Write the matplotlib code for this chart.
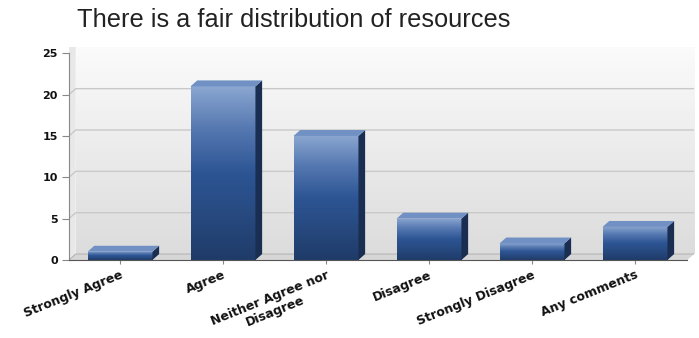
import numpy as np
import matplotlib
matplotlib.use('Agg')
import matplotlib.pyplot as plt
from matplotlib.patches import Polygon
from matplotlib.colors import LinearSegmentedColormap

# data
categories = ['Strongly Agree', 'Agree', 'Neither Agree nor\nDisagree',
              'Disagree', 'Strongly Disagree', 'Any comments']
counts = [1, 21, 15, 5, 2, 4]
yticks = [0, 5, 10, 15, 20, 25]
title = 'There is a fair distribution of resources'

W, H = 699, 338
fig = plt.figure(figsize=(W / 100, H / 100), dpi=100)
fig.patch.set_facecolor('white')

# axes box in pixels: x 69..694, y 47..260
ax = fig.add_axes([69 / W, (H - 260) / H, (694 - 69) / W, (260 - 47) / H])
x0, x1 = -0.495, 5.573
ytop = 25.76
dx, dy = 0.065, 0.72  # 3d depth in data units

# back wall gradient
grad = np.linspace(0, 1, 256).reshape(-1, 1)
wall_cm = LinearSegmentedColormap.from_list('wall', ['#dcdcdc', '#fbfbfb'])
ax.imshow(grad, cmap=wall_cm, origin='lower', aspect='auto',
          extent=(x0 + dx, x1, dy, ytop), zorder=0)
# left wall and floor
ax.add_patch(Polygon([(x0, 0), (x0 + dx, dy), (x0 + dx, ytop), (x0, ytop)],
                     closed=True, fc='#e8e8e8', ec='none', zorder=0.5))
ax.add_patch(Polygon([(x0, 0), (x1 - dx, 0), (x1, dy), (x0 + dx, dy)],
                     closed=True, fc='#d6d6d6', ec='none', zorder=0.5))

# gridlines on back wall
for t in yticks[1:-1]:
    ax.plot([x0, x0 + dx, x1], [t, t + dy, t + dy], color='#c9c9c9', lw=1, zorder=1)
ax.plot([x0, x0 + dx, x1], [0, dy, dy], color='#b5b5b5', lw=0.8, zorder=1)

# bars
bw = 0.63
front_cm = LinearSegmentedColormap.from_list(
    'front', ['#1f3b68', '#27497f', '#2d5594', '#5477b0', '#8ba7d1'])
bars = ax.bar(range(len(counts)), counts, width=bw, color='none', zorder=3)
for i, (b, v) in enumerate(zip(bars, counts)):
    left = i - bw / 2
    right = i + bw / 2
    im = ax.imshow(grad, cmap=front_cm, origin='lower', aspect='auto',
                   extent=(left, right, 0, v), zorder=3)
    im.set_clip_path(b)
    # side face
    ax.add_patch(Polygon([(right, 0), (right + dx, dy), (right + dx, v + dy), (right, v)],
                         closed=True, fc='#1a2e52', ec='none', zorder=3))
    # top face
    ax.add_patch(Polygon([(left, v), (left + dx, v + dy), (right + dx, v + dy), (right, v)],
                         closed=True, fc='#7191c4', ec='none', zorder=3))

ax.set_xlim(x0, x1)
ax.set_ylim(0, ytop)

# axes styling
for s in ['top', 'right']:
    ax.spines[s].set_visible(False)
ax.spines['left'].set_bounds(0, 25)
ax.spines['left'].set_color('#888888')
ax.spines['bottom'].set_bounds(x0, x1 - dx)
ax.spines['bottom'].set_color('#555555')
ax.spines['left'].set_zorder(5)
ax.spines['bottom'].set_zorder(5)

ax.set_yticks(yticks)
ax.set_yticklabels([str(t) for t in yticks], fontsize=8, fontweight='bold',
                   family='DejaVu Sans', color='#111111')
ax.tick_params(axis='y', length=5, color='#888888', pad=3)
ax.set_xticks(range(len(categories)))
ax.set_xticklabels(categories, fontsize=9, fontweight='bold', rotation=22,
                   ha='right', rotation_mode='anchor', ma='center',
                   family='DejaVu Sans', color='#111111', linespacing=1.15)
ax.tick_params(axis='x', length=3, color='#888888', pad=3)

fig.text(77 / W, 1 - 27 / H, title, fontsize=18.3, family='Liberation Sans',
         color='#222222', va='baseline', ha='left')

fig.savefig('out.png', dpi=100, facecolor='white')
